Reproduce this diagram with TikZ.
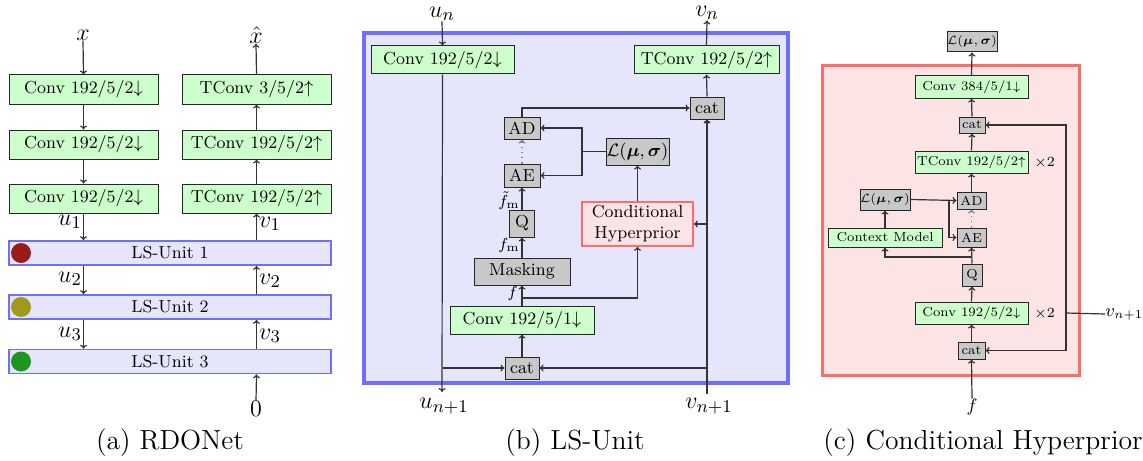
\documentclass[tikz,border=0pt]{standalone}
\usepackage{amsmath}
\usepackage{bm}
\usetikzlibrary{arrows.meta,calc}

\definecolor{convgreen}{HTML}{CCFFCC}
\definecolor{opgray}{HTML}{C8C8C8}
\definecolor{unitfill}{HTML}{E5E5FC}
\definecolor{unitdraw}{HTML}{6E6EFF}
\definecolor{hypfill}{HTML}{FDE4E4}
\definecolor{hypdraw}{HTML}{FF6C6C}
\definecolor{dotred}{HTML}{9B1B1B}
\definecolor{dotolive}{HTML}{A0991C}
\definecolor{dotgreen}{HTML}{1C961C}
\definecolor{wire}{HTML}{333333}

\tikzset{
  base/.style={draw=black!85, line width=0.5pt, inner sep=0pt, align=center,
    font=\fontsize{8.7}{10.5}\selectfont},
  conv/.style={base, fill=convgreen},
  op/.style={base, fill=opgray},
  small/.style={font=\fontsize{6.5}{8}\selectfont},
  lsbar/.style={draw=unitdraw, fill=unitfill, line width=0.8pt, inner sep=0pt,
    font=\fontsize{8.7}{10.5}\selectfont},
  hyp/.style={draw=hypdraw, fill=hypfill, line width=0.8pt, inner sep=0pt,
    align=center, font=\fontsize{8.7}{10.5}\selectfont},
  lab/.style={inner sep=0pt, font=\fontsize{13}{15}\selectfont},
  smalllab/.style={inner sep=0pt, font=\fontsize{9}{11}\selectfont},
  sublab/.style={inner sep=0pt, font=\fontsize{8.5}{10}\selectfont},
  timeslab/.style={inner sep=0pt, font=\fontsize{7}{8}\selectfont},
  captext/.style={inner sep=0pt, font=\fontsize{13.8}{16}\selectfont},
  wire/.style={draw=wire, line width=0.6pt},
  arr/.style={wire, -{To[length=2pt,width=3.5pt]}},
  dotarr/.style={draw=gray, line width=0.6pt, dotted, -{To[length=2pt,width=3.5pt]}},
}

\begin{document}
\begin{tikzpicture}[x=0.5pt,y=-0.5pt]
\useasboundingbox (0,0) rectangle (1143,460);

% ---------------- (a) RDONet ----------------
\node[lab] (xin) at (83,35) {$x$};
\node[lab] (xout) at (256,35) {$\hat{x}$};
\node[conv, minimum width=74.5pt, minimum height=14.5pt] (a1) at (83.5,89.5) {Conv 192/5/2$\downarrow$};
\node[conv, minimum width=74.5pt, minimum height=14.5pt] (a2) at (83.5,144.5) {Conv 192/5/2$\downarrow$};
\node[conv, minimum width=74.5pt, minimum height=14.5pt] (a3) at (83.5,198.5) {Conv 192/5/2$\downarrow$};
\node[conv, minimum width=74.5pt, minimum height=14.5pt] (b1) at (256.5,89.5) {TConv 3/5/2$\uparrow$};
\node[conv, minimum width=74.5pt, minimum height=14.5pt] (b2) at (256.5,144.5) {TConv 192/5/2$\uparrow$};
\node[conv, minimum width=74.5pt, minimum height=14.5pt] (b3) at (256.5,198.5) {TConv 192/5/2$\uparrow$};
\node[lsbar, minimum width=161pt, minimum height=12pt] (ls1) at (170,253) {LS-Unit 1};
\node[lsbar, minimum width=161pt, minimum height=12pt] (ls2) at (170,307) {LS-Unit 2};
\node[lsbar, minimum width=161pt, minimum height=12pt] (ls3) at (170,361.5) {LS-Unit 3};
\fill[dotred] (21,253) circle (5pt);
\fill[dotolive] (21,307) circle (5pt);
\fill[dotgreen] (21,361.5) circle (5pt);
\node[lab] (zero) at (256,409) {$0$};

\draw[arr] (xin.south) -- (a1.north);
\draw[arr] (a1.south) -- (a2.north);
\draw[arr] (a2.south) -- (a3.north);
\draw[arr] (a3.south) -- (a3.south |- ls1.north);
\draw[arr] (a3.south |- ls1.south) -- (a3.south |- ls2.north);
\draw[arr] (a3.south |- ls2.south) -- (a3.south |- ls3.north);
\draw[arr] (b1.north) -- (xout.south);
\draw[arr] (b2.north) -- (b1.south);
\draw[arr] (b3.north) -- (b2.south);
\draw[arr] (b3.south |- ls1.north) -- (b3.south);
\draw[arr] (b3.south |- ls2.north) -- (b3.south |- ls1.south);
\draw[arr] (b3.south |- ls3.north) -- (b3.south |- ls2.south);
\draw[arr] (zero.north) -- (b3.south |- ls3.south);
\node[lab] (u1) at (70,222) {$u_1$};
\node[lab] (u2) at (70,279) {$u_2$};
\node[lab] (u3) at (70,334) {$u_3$};
\node[lab] (v1) at (270,224) {$v_1$};
\node[lab] (v2) at (270,281) {$v_2$};
\node[lab] (v3) at (270,336) {$v_3$};
\node[captext] (capa) at (170,443) {(a) RDONet};

% ---------------- (b) LS-Unit ----------------
\draw[draw=unitdraw, fill=unitfill, line width=2pt] (364,33) rectangle (788,383);
\node[lab] (un) at (442,14) {$u_n$};
\node[lab] (vn) at (707,13) {$v_n$};
\node[conv, minimum width=71.5pt, minimum height=14pt] (cv) at (442.5,60) {Conv 192/5/2$\downarrow$};
\node[conv, minimum width=72.5pt, minimum height=14pt] (tc) at (706.5,60) {TConv 192/5/2$\uparrow$};
\node[op, minimum width=17pt, minimum height=11pt] (catt) at (707,108) {cat};
\node[op, minimum width=18pt, minimum height=11pt] (ad) at (522,128) {AD};
\node[op, minimum width=18pt, minimum height=11.5pt] (ae) at (522,175.5) {AE};
\node[op, minimum width=31.5pt, minimum height=13.5pt] (lb) at (637.5,151.5) {$\mathcal{L}(\bm{\mu},\bm{\sigma})$};
\node[op, minimum width=12.5pt, minimum height=13.5pt] (q) at (522,223.5) {Q};
\node[op, minimum width=48pt, minimum height=13.5pt] (mask) at (522,271.5) {Masking};
\node[conv, minimum width=72pt, minimum height=14pt] (cv1) at (522,320) {Conv 192/5/1$\downarrow$};
\node[hyp, minimum width=55.5pt, minimum height=22pt] (ch) at (637.5,224) {Conditional\\Hyperprior};
\node[op, minimum width=17pt, minimum height=11pt] (catb) at (522,368) {cat};
\coordinate (uout) at (442,392);
\coordinate (vin) at (707,394);
\node[lab] (un1) at (444,406) {$u_{n+1}$};
\node[lab] (vn1) at (709,406) {$v_{n+1}$};

\draw[arr] (un.south) -- (cv.north);
\draw[arr] (tc.north) -- (vn.south);
\draw[arr] (cv.south) -- (uout);
\draw[arr, line width=0.9pt] (vin) -- (catt.south);
\draw[arr] (catt.north) -- (tc.south);
\draw[arr] (ad.north) |- (catt.west);
\coordinate (jl) at (582,151.5);
\draw[wire] (lb.west) -- (jl);
\draw[arr] (jl) |- (ad.east);
\draw[arr] (jl) |- (ae.east);
\draw[dotarr] (ae.north) -- (ad.south);
\draw[arr] (q.north) -- (ae.south);
\draw[arr] (mask.north) -- (q.south);
\draw[arr] (cv1.north) -- (mask.south);
\coordinate (jf) at (522,298);
\draw[arr] (jf) -| (ch.south);
\draw[arr] (ch.north) -- (lb.south);
\draw[arr] (vin |- ch.east) -- (ch.east);
\draw[arr] (catb.north) -- (cv1.south);
\draw[arr] (cv.south |- catb.west) -- (catb.west);
\draw[arr] (vin |- catb.east) -- (catb.east);
\node[sublab, anchor=east] (ftm) at (520,201) {$\tilde{f}_{\mathrm{m}}$};
\node[sublab, anchor=east] (fm) at (520,245) {$f_{\mathrm{m}}$};
\node[sublab, anchor=east] (fb) at (518,293) {$f$};
\node[captext] (capb) at (575,443) {(b) LS-Unit};

% ---------------- (c) Conditional Hyperprior ----------------
\draw[draw=hypdraw, fill=hypfill, line width=1.5pt] (822,66) rectangle (1079,375);
\node[op, small, minimum width=25pt, minimum height=10pt] (lc) at (972,42) {$\mathcal{L}(\bm{\mu},\bm{\sigma})$};
\node[conv, small, minimum width=56.5pt, minimum height=11pt] (c384) at (971.5,87) {Conv 384/5/1$\downarrow$};
\node[op, small, minimum width=13pt, minimum height=8pt] (cc1) at (972,125) {cat};
\node[conv, small, minimum width=56.5pt, minimum height=11pt] (t192) at (971.5,162) {TConv 192/5/2$\uparrow$};
\node[op, small, minimum width=14.5pt, minimum height=8.5pt] (adc) at (971.5,200.5) {AD};
\node[op, small, minimum width=25pt, minimum height=10.5pt] (lc2) at (885,199.5) {$\mathcal{L}(\bm{\mu},\bm{\sigma})$};
\node[op, small, minimum width=14.5pt, minimum height=9.5pt] (aec) at (971.5,237.5) {AE};
\node[conv, small, minimum width=57pt, minimum height=9.5pt] (cm) at (885,237.5) {Context Model};
\node[op, small, minimum width=10pt, minimum height=11pt] (qc) at (972,275) {Q};
\node[conv, small, minimum width=56.5pt, minimum height=11pt] (c192) at (971.5,313) {Conv 192/5/2$\downarrow$};
\node[op, small, minimum width=13.5pt, minimum height=8.5pt] (cc2) at (971.5,350.5) {cat};
\node[timeslab, anchor=west] (x2a) at (1034,163) {$\times 2$};
\node[timeslab, anchor=west] (x2b) at (1034,314) {$\times 2$};
\node[smalllab] (fc) at (972,407) {$f$};
\node[smalllab, anchor=west] (vc) at (1105,314) {$v_{n+1}$};

\draw[arr] (c384.north) -- (lc.south);
\draw[arr] (cc1.north) -- (c384.south);
\draw[arr] (t192.north) -- (cc1.south);
\draw[arr] (adc.north) -- (t192.south);
\draw[dotarr] (aec.north) -- (adc.south);
\draw[arr] (qc.north) -- (aec.south);
\draw[arr] (c192.north) -- (qc.south);
\draw[arr] (cc2.north) -- (c192.south);
\draw[arr] (fc.north) -- (cc2.south);
\draw[arr] (lc2.east) -- (adc.west);
\coordinate (jlc) at (949,199.5);
\draw[arr] (jlc) |- (aec.west);
\draw[arr] (cm.north) -- (lc2.south);
\coordinate (jq) at (972,257);
\draw[arr] (jq) -| (cm.south);
\coordinate (jv) at (1066,313);
\draw[wire] (vc.west) -- (jv);
\draw[arr] (jv) |- (cc1.east);
\draw[arr] (jv) |- (cc2.east);
\node[captext] (capc) at (983,443) {(c) Conditional Hyperprior};
\end{tikzpicture}
\end{document}
